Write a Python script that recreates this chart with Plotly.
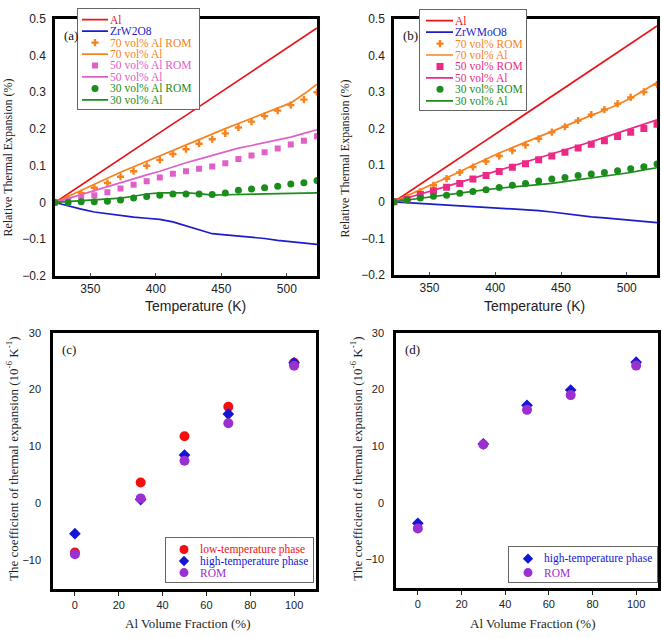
import plotly.graph_objects as go

W, H = 662, 638
SERIF = "Liberation Serif, Times New Roman, serif"
SANS = "Liberation Sans, Arial, sans-serif"

# ---------------- data ----------------
T = [323, 333, 343, 353, 363, 373, 383, 393, 403, 413, 423,
     433, 443, 453, 463, 473, 483, 493, 503, 513, 523]

# panel (a): Al / ZrW2O8 composites
a_al = [0, 0.024, 0.047, 0.071, 0.095, 0.119, 0.142, 0.166, 0.190, 0.214, 0.237,
        0.261, 0.285, 0.309, 0.332, 0.356, 0.380, 0.404, 0.428, 0.451, 0.475]
a_zrw = [0, -0.010, -0.018, -0.026, -0.031, -0.036, -0.040, -0.043, -0.046, -0.053, -0.064,
         -0.075, -0.085, -0.088, -0.091, -0.093, -0.098, -0.103, -0.106, -0.109, -0.114]
a_70_rom = [0, 0.012, 0.025, 0.040, 0.053, 0.070, 0.085, 0.100, 0.116, 0.132, 0.145,
            0.160, 0.172, 0.188, 0.204, 0.220, 0.235, 0.250, 0.265, 0.280, 0.300]
a_70 = [0, 0.017, 0.034, 0.050, 0.066, 0.082, 0.097, 0.113, 0.128, 0.143, 0.158,
        0.172, 0.187, 0.201, 0.215, 0.229, 0.243, 0.257, 0.271, 0.295, 0.322]
a_50_rom = [0, 0.006, 0.012, 0.020, 0.028, 0.038, 0.048, 0.058, 0.068, 0.078, 0.085,
            0.092, 0.098, 0.107, 0.118, 0.128, 0.137, 0.147, 0.158, 0.168, 0.180]
a_50 = [0, 0.011, 0.021, 0.031, 0.042, 0.053, 0.064, 0.075, 0.085, 0.097, 0.108,
        0.118, 0.128, 0.139, 0.148, 0.155, 0.162, 0.170, 0.178, 0.188, 0.198]
a_30_rom = [0, 0, 0.002, 0.002, 0.003, 0.007, 0.012, 0.016, 0.020, 0.023, 0.023,
            0.023, 0.022, 0.026, 0.033, 0.037, 0.040, 0.044, 0.050, 0.054, 0.060]
a_30 = [0, 0.002, 0.004, 0.006, 0.008, 0.012, 0.017, 0.023, 0.026, 0.027, 0.026,
        0.024, 0.020, 0.021, 0.022, 0.023, 0.023, 0.024, 0.025, 0.026, 0.026]

# panel (b): Al / ZrWMoO8 composites
b_al = [0, 0.024, 0.048, 0.072, 0.096, 0.120, 0.144, 0.168, 0.192, 0.216, 0.240,
        0.264, 0.288, 0.312, 0.336, 0.360, 0.384, 0.408, 0.432, 0.456, 0.480]
b_zrw = [0, -0.002, -0.004, -0.007, -0.009, -0.011, -0.013, -0.015, -0.017, -0.019, -0.021,
         -0.024, -0.028, -0.033, -0.037, -0.041, -0.044, -0.047, -0.050, -0.054, -0.057]
b_70_rom = [0, 0.012, 0.027, 0.045, 0.063, 0.080, 0.095, 0.110, 0.125, 0.140, 0.155,
            0.172, 0.190, 0.205, 0.222, 0.238, 0.252, 0.268, 0.285, 0.300, 0.320]
b_70 = [0, 0.016, 0.033, 0.050, 0.066, 0.082, 0.100, 0.117, 0.133, 0.148, 0.163,
        0.178, 0.193, 0.207, 0.222, 0.236, 0.250, 0.265, 0.283, 0.304, 0.326]
b_50_rom = [0, 0.006, 0.020, 0.030, 0.040, 0.050, 0.062, 0.072, 0.083, 0.094, 0.104,
            0.115, 0.125, 0.135, 0.147, 0.157, 0.167, 0.178, 0.190, 0.200, 0.212]
b_50 = [0, 0.010, 0.020, 0.031, 0.042, 0.053, 0.064, 0.075, 0.086, 0.097, 0.108,
        0.119, 0.130, 0.141, 0.152, 0.164, 0.176, 0.188, 0.200, 0.212, 0.224]
b_30_rom = [0, 0.005, 0.010, 0.015, 0.018, 0.023, 0.028, 0.033, 0.039, 0.045, 0.050,
            0.057, 0.062, 0.066, 0.072, 0.076, 0.080, 0.085, 0.090, 0.096, 0.103]
b_30 = [0, 0.005, 0.010, 0.015, 0.019, 0.024, 0.029, 0.033, 0.037, 0.041, 0.044,
        0.047, 0.050, 0.055, 0.061, 0.066, 0.070, 0.074, 0.080, 0.087, 0.093]

# panels (c), (d): CTE vs Al volume fraction
frac = [0, 30, 50, 70, 100]
c_low = [-8.6, 3.7, 11.8, 17.0, 24.7]
c_high = [-5.3, 0.7, 8.5, 15.7, 24.7]
c_rom = [-8.9, 0.9, 7.5, 14.1, 24.2]
d_high = [-3.6, 10.4, 17.2, 19.9, 24.8]
d_rom = [-4.5, 10.3, 16.4, 19.0, 24.2]

temp_ticks = [350, 400, 450, 500]
rte_ticks = [-0.2, -0.1, 0, 0.1, 0.2, 0.3, 0.4, 0.5]
frac_ticks = [0, 20, 40, 60, 80, 100]
cte_ticks = [-10, 0, 10, 20, 30]

# ---------------- styles ----------------
RED = "#e8141c"
BLUE = "#1c1ccc"
ORANGE = "#f7821e"
PINK_A = "#e060c8"
PINK_B = "#ec2a86"
GREEN = "#1c8c1c"
C_RED = "#f01010"
C_BLUE = "#1515d5"
C_PURPLE = "#9b30d0"

series_a = [
    ("Al", a_al, "line", RED, None, 0),
    ("ZrW2O8", a_zrw, "line", BLUE, None, 0),
    ("70 vol% Al ROM", a_70_rom, "marker", ORANGE, "cross", 6),
    ("70 vol% Al", a_70, "line", ORANGE, None, 0),
    ("50 vol% Al ROM", a_50_rom, "marker", PINK_A, "square", 6),
    ("50 vol% Al", a_50, "line", PINK_A, None, 0),
    ("30 vol% Al ROM", a_30_rom, "marker", GREEN, "circle", 7),
    ("30 vol% Al", a_30, "line", GREEN, None, 0),
]
series_b = [
    ("Al", b_al, "line", RED, None, 0),
    ("ZrWMoO8", b_zrw, "line", BLUE, None, 0),
    ("70 vol% ROM", b_70_rom, "marker", ORANGE, "cross", 6),
    ("70 vol% Al", b_70, "line", ORANGE, None, 0),
    ("50 vol% ROM", b_50_rom, "marker", PINK_B, "square", 7),
    ("50 vol% Al", b_50, "line", PINK_B, None, 0),
    ("30 vol% ROM", b_30_rom, "marker", GREEN, "circle", 7),
    ("30 vol% Al", b_30, "line", GREEN, None, 0),
]
series_c = [
    ("low-temperature phase", c_low, "marker", C_RED, "circle", 10),
    ("high-temperature phase", c_high, "marker", C_BLUE, "diamond", 9),
    ("ROM", c_rom, "marker", C_PURPLE, "circle", 10),
]
series_d = [
    ("high-temperature phase", d_high, "marker", C_BLUE, "diamond", 9),
    ("ROM", d_rom, "marker", C_PURPLE, "circle", 10),
]

# pixel boxes (left, top, right, bottom)
panels = {
    "a": dict(box=(55, 12, 317, 275), ax="", series=series_a, xs=T),
    "b": dict(box=(394, 12, 657, 274), ax="2", series=series_b, xs=T),
    "c": dict(box=(53, 333, 316, 595), ax="3", series=series_c, xs=frac),
    "d": dict(box=(396, 333, 658, 594), ax="4", series=series_d, xs=frac),
}
# legend boxes: box, first-row offset, row step, line x0,x1, marker x, text x
legends = {
    "a": dict(box=(78, 2, 199, 104), ax="5", r0=11, dr=11.7, lx=(4, 30), mx=17, tx=31),
    "b": dict(box=(420, 3, 526, 105), ax="6", r0=11, dr=11.7, lx=(6, 33), mx=20, tx=34),
    "c": dict(box=(166, 543, 313, 588), ax="7", r0=11.7, dr=11.8, lx=(10, 26), mx=18, tx=33),
    "d": dict(box=(509, 552, 657, 588), ax="8", r0=12, dr=14.3, lx=(10, 26), mx=19, tx=34),
}


def xdom(l, r):
    return [l / W, r / W]


def ydom(t, b):
    return [1 - b / H, 1 - t / H]


fig = go.Figure()
layout = {}
annotations = []

for key, p in panels.items():
    ax = p["ax"]
    for name, vals, kind, color, sym, size in p["series"]:
        if kind == "line":
            fig.add_trace(go.Scatter(x=p["xs"], y=vals, mode="lines", name=name,
                                     line=dict(color=color, width=1.7),
                                     xaxis="x" + ax, yaxis="y" + ax, showlegend=False))
        else:
            fig.add_trace(go.Scatter(x=p["xs"], y=vals, mode="markers", name=name,
                                     marker=dict(color=color, symbol=sym, size=size,
                                                 line=dict(width=0)),
                                     xaxis="x" + ax, yaxis="y" + ax, showlegend=False))
    l, t, r, b = p["box"]
    common = dict(showline=True, mirror=True, linecolor="black", linewidth=2.5,
                  showgrid=False, zeroline=False,
                  tickfont=dict(family=SANS, size=12 if key in "ab" else 11, color="#222"))
    if key in "ab":
        xa = dict(domain=xdom(l, r), range=[323, 523], tickvals=temp_ticks,
                  ticks="inside", ticklen=3, tickcolor="#445", anchor="y" + ax, **common)
        ya = dict(domain=ydom(t, b), range=[-0.2, 0.5], tickvals=rte_ticks,
                  ticks="", ticklabelstandoff=4, anchor="x" + ax, **common)
    else:
        xa = dict(domain=xdom(l, r), range=[-10, 110], tickvals=frac_ticks,
                  ticks="outside", ticklen=4, tickcolor="#222", anchor="y" + ax, **common)
        ya = dict(domain=ydom(t, b), range=[-15, 30], tickvals=cte_ticks,
                  ticks="", ticklabelstandoff=7, anchor="x" + ax, **common)
    layout["xaxis" + ax] = xa
    layout["yaxis" + ax] = ya
    # panel label
    annotations.append(dict(text="(%s)" % key, xref="x%s domain" % ax, yref="y%s domain" % ax,
                            x=0.025, y=0.97, xanchor="left", yanchor="top", showarrow=False,
                            font=dict(family=SERIF, size=13, color="#111")))

# legends as inset axes
for key, lg in legends.items():
    ax = lg["ax"]
    l, t, r, b = lg["box"]
    bw, bh = r - l, b - t
    layout["xaxis" + ax] = dict(domain=xdom(l, r), range=[0, bw], anchor="y" + ax,
                                showline=True, mirror=True, linecolor="#666", linewidth=1,
                                showticklabels=False, showgrid=False, zeroline=False,
                                ticks="", fixedrange=True)
    layout["yaxis" + ax] = dict(domain=ydom(t, b), range=[bh, 0], anchor="x" + ax,
                                showline=True, mirror=True, linecolor="#666", linewidth=1,
                                showticklabels=False, showgrid=False, zeroline=False,
                                ticks="", fixedrange=True)
    for i, (name, vals, kind, color, sym, size) in enumerate(panels[key]["series"]):
        row = lg["r0"] + i * lg["dr"]
        if kind == "line":
            fig.add_trace(go.Scatter(x=list(lg["lx"]), y=[row, row], mode="lines",
                                     line=dict(color=color, width=1.7),
                                     xaxis="x" + ax, yaxis="y" + ax, showlegend=False,
                                     hoverinfo="skip"))
        else:
            fig.add_trace(go.Scatter(x=[lg["mx"]], y=[row], mode="markers",
                                     marker=dict(color=color, symbol=sym,
                                                 size=size if key in "ab" else size - 1,
                                                 line=dict(width=0)),
                                     xaxis="x" + ax, yaxis="y" + ax, showlegend=False,
                                     hoverinfo="skip"))
        annotations.append(dict(text=name, xref="x" + ax, yref="y" + ax, x=lg["tx"], y=row,
                                xanchor="left", yanchor="middle", showarrow=False,
                                borderpad=0,
                                font=dict(family=SERIF, size=11.5, color=color)))

# axis titles
def ann(text, xpx, ypx, family, size, angle=0):
    annotations.append(dict(text=text, xref="paper", yref="paper", x=xpx / W, y=1 - ypx / H,
                            xanchor="center", yanchor="middle", showarrow=False, textangle=angle,
                            font=dict(family=family, size=size, color="#222")))

ann("Temperature (K)", 196, 306, SANS, 14)
ann("Temperature (K)", 534, 306, SANS, 14)
ann("Relative Thermal Expansion (%)", 8, 154, SERIF, 12, -90)
ann("Relative Thermal Expansion (%)", 345, 155, SERIF, 12, -90)
ann("Al Volume Fraction (%)", 188, 630, SERIF, 13)
ann("Al Volume Fraction (%)", 533, 630, SERIF, 13)
cte_title = "The coefficient of thermal expansion (10<sup>-6</sup> K<sup>-1</sup>)"
ann(cte_title, 12, 462, SERIF, 13, -90)
ann(cte_title, 356, 462, SERIF, 13, -90)

fig.update_layout(**layout)
fig.update_layout(width=W, height=H, margin=dict(l=0, r=0, t=0, b=0),
                  paper_bgcolor="white", plot_bgcolor="white", showlegend=False,
                  annotations=annotations)

page_fix = (
    "document.documentElement.style.margin='0';"
    "document.body.style.margin='0';"
    "document.body.style.padding='0';"
    "document.body.style.overflow='hidden';"
    "var gd=document.getElementById('{plot_id}');"
    "gd.style.position='fixed';gd.style.left='0px';gd.style.top='0px';"
)
fig.write_html("out.html", config={"displayModeBar": False}, post_script=page_fix)
